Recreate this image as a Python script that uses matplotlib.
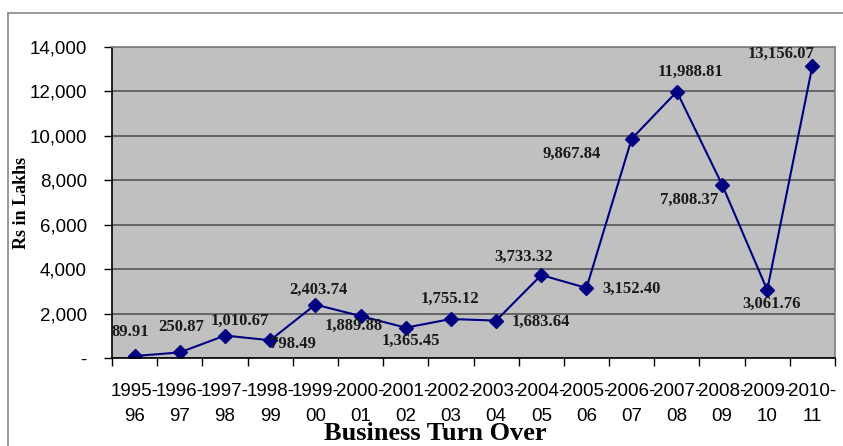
import matplotlib.pyplot as plt
from matplotlib.lines import Line2D
from matplotlib.ticker import FuncFormatter

years = ["1995-\n96", "1996-\n97", "1997-\n98", "1998-\n99", "1999-\n00", "2000-\n01",
         "2001-\n02", "2002-\n03", "2003-\n04", "2004-\n05", "2005-\n06", "2006-\n07",
         "2007-\n08", "2008-\n09", "2009-\n10", "2010-\n11"]
turnover = [89.91, 250.87, 1010.67, 798.49, 2403.74, 1889.88, 1365.45, 1755.12,
            1683.64, 3733.32, 3152.40, 9867.84, 11988.81, 7808.37, 3061.76, 13156.07]
# where each value label sits relative to its point (pixels)
label_offsets = [(-4, 24), (1, 25), (15, 15), (23, -4), (3, 15), (-7, -10), (5, -13),
                 (-1, 20), (45, -1), (-18, 18), (45, -1), (-60, -15), (14, 20),
                 (-33, -15), (4, -14), (-31, 12)]

W, H = 843, 446
fig = plt.figure(figsize=(W / 100, H / 100), dpi=100)
ax = fig.add_axes([112 / W, 88 / H, 723 / W, 311 / H])
ax.set_facecolor("#c0c0c0")

x = list(range(len(years)))
ax.plot(x, turnover, color="#000080", lw=1.5, marker="D", markersize=7)

for xi, v, (dx, dy) in zip(x, turnover, label_offsets):
    ax.annotate(f"{v:,.2f}", (xi, v), xytext=(dx, dy), textcoords="offset pixels",
                ha="center", va="center", fontsize=12, fontweight="bold",
                family="Liberation Serif", color="#1a1a1a")

ax.set_xlim(-0.5, len(years) - 0.5)
ax.set_ylim(0, 14000)
ax.set_yticks(range(0, 14001, 2000))
ax.yaxis.set_major_formatter(FuncFormatter(lambda v, p: "-" if v == 0 else f"{v:,.0f}"))
ax.grid(axis="y", color="#555555", lw=1.2)
ax.set_axisbelow(True)

ax.set_xticks(x)
ax.set_xticklabels(years, family="Liberation Sans", fontsize=13.5, linespacing=1.6)
ax.set_xticks([i - 0.5 for i in range(len(years) + 1)], minor=True)
ax.tick_params(axis="x", which="major", length=0, pad=18)
ax.tick_params(axis="x", which="minor", length=6, width=1, color="black")
ax.tick_params(axis="y", length=6, width=1, pad=12, labelsize=13.5)
for lab in ax.get_yticklabels():
    lab.set_family("Liberation Sans")

for side in ["left", "bottom"]:
    ax.spines[side].set_color("black")
    ax.spines[side].set_linewidth(1.2)
for side in ["top", "right"]:
    ax.spines[side].set_color("#808080")
    ax.spines[side].set_linewidth(1.2)

ax.set_ylabel("Rs in Lakhs", family="Liberation Serif", fontweight="bold", fontsize=13)
ax.yaxis.set_label_coords((30 - 112) / 723, 0.5)

fig.text(435 / W, 0.5 / H, "Business Turn Over", ha="center", va="bottom",
         family="Liberation Serif", fontweight="bold", fontsize=19)

# outer chart frame
fig.add_artist(Line2D([8 / W, 8 / W], [0, 1 - 13 / H], color="#888888", lw=1.2))
fig.add_artist(Line2D([8 / W, 1], [1 - 13 / H, 1 - 13 / H], color="#888888", lw=1.2))

fig.savefig("out.png", dpi=100)
